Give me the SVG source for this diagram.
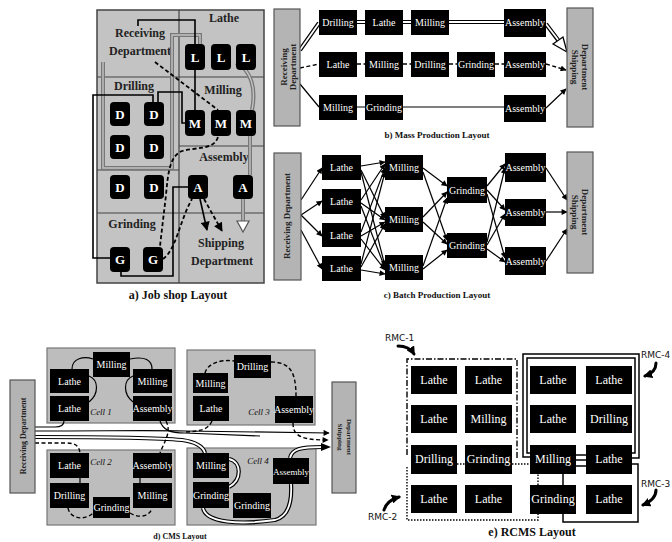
<svg xmlns="http://www.w3.org/2000/svg" width="672" height="542" viewBox="0 0 672 542">
<defs>
<style>
.bg{fill:#fff}
.area{fill:#c3c3c3;stroke:#444;stroke-width:1.5}
.div{stroke:#444;stroke-width:1.2;fill:none}
.dept{fill:#b4b4b4;stroke:#555;stroke-width:1.2}
.cell{fill:#bdbdbd;stroke:#777;stroke-width:1.2}
.nb{fill:#000}
.jn{fill:#000}
.jt{fill:#fff;font-family:"Liberation Serif",serif;font-weight:bold;font-size:13px;text-anchor:middle}
.t{fill:#fff;font-family:"Liberation Serif",serif;font-size:10px;text-anchor:middle}
.t12{fill:#fff;font-family:"Liberation Serif",serif;font-size:12px;text-anchor:middle}
.lb{fill:#222;font-family:"Liberation Serif",serif;font-weight:bold;font-size:12px;text-anchor:middle}
.dl{fill:#222;font-family:"Liberation Serif",serif;font-weight:bold;font-size:9px;text-anchor:middle}
.cap{fill:#111;font-family:"Liberation Serif",serif;font-weight:bold;font-size:10px;text-anchor:middle}
.cap2{fill:#111;font-family:"Liberation Serif",serif;font-weight:bold;font-size:12px;text-anchor:middle}
.cl{fill:#111;font-family:"Liberation Serif",serif;font-style:italic;font-size:9px;text-anchor:middle}
.rmc{fill:#111;font-family:"DejaVu Sans",sans-serif;font-size:9px}
.ln{stroke:#000;stroke-width:1.2;fill:none}
.lnb{stroke:#000;stroke-width:1.6;fill:none}
.ds{stroke:#000;stroke-width:1.4;fill:none;stroke-dasharray:4 2.5}
.dso{stroke:#000;stroke-width:1.8;fill:none;stroke-dasharray:4 2.5}
.dbo{stroke:#000;stroke-width:4.2;fill:none}
.dbi{stroke:#fff;stroke-width:1.8;fill:none}
.gro{stroke:#777;stroke-width:4;fill:none}
.gri{stroke:#c3c3c3;stroke-width:1.4;fill:none}
.dd{stroke:#000;stroke-width:1.4;fill:none;stroke-dasharray:6 2 1.5 2}
.dt{stroke:#000;stroke-width:1.4;fill:none;stroke-dasharray:1.5 1.5}
.fr{stroke:#000;stroke-width:1.5;fill:none}
.cur{stroke:#000;stroke-width:3;fill:none;stroke-linecap:round}
</style>
<marker id="ah" viewBox="0 0 10 10" refX="9" refY="5" markerWidth="7" markerHeight="6" markerUnits="userSpaceOnUse" orient="auto"><path d="M0,0 L10,5 L0,10 z" fill="#000"/></marker>
<marker id="ahb" viewBox="0 0 10 10" refX="9" refY="5" markerWidth="10" markerHeight="9" markerUnits="userSpaceOnUse" orient="auto"><path d="M0,0 L10,5 L0,10 z" fill="#000"/></marker>
<marker id="ahc" viewBox="0 0 10 10" refX="8" refY="5" markerWidth="9" markerHeight="9" markerUnits="userSpaceOnUse" orient="auto"><path d="M0,0 L10,5 L0,10 z" fill="#000"/></marker>
</defs>
<rect class="bg" x="0" y="0" width="672" height="542"/>

<!-- ============ a) Job shop ============ -->
<g id="jobshop">
<rect class="area" x="97" y="10" width="167" height="273"/>
<path class="div" d="M179 10 V283 M97 77 H264 M179 146 H264 M97 213 H264 M97 170 H179"/>
<text class="lb" x="224" y="22">Lathe</text>
<text class="lb" x="140" y="37">Receiving</text>
<text class="lb" x="140" y="55">Department</text>
<text class="lb" x="134" y="90">Drilling</text>
<text class="lb" x="223" y="94">Milling</text>
<text class="lb" x="224" y="161">Assembly</text>
<text class="lb" x="132" y="228">Grinding</text>
<text class="lb" x="221" y="247">Shipping</text>
<text class="lb" x="222" y="265">Department</text>
</g>
<g id="jobshop-connectors">
<path class="gro" d="M103 62 V168 H172 V35 H200 V44"/>
<path class="gri" d="M103 62 V168 H172 V35 H200 V44"/>
<path class="gro" d="M236 63 C252 70 256 90 252 110 M250 136 V175 M243 199 V222"/>
<path class="gri" d="M236 63 C252 70 256 90 252 110 M250 136 V175 M243 199 V222"/>
<polygon points="237,221 249,221 243,232" fill="#fff" stroke="#555" stroke-width="1.2"/>
<path class="lnb" d="M138 26 V20 H195 V110"/>
<path class="lnb" d="M110 258 H93 V95 H153 V102"/>
<path class="lnb" d="M158 102 V92 H182 V123 H185"/>
<path class="lnb" d="M121 272 V276 H173 V187 H188"/>
<path class="lnb" d="M200 199 L207 230" marker-end="url(#ahb)"/>
<path class="dso" d="M155 62 L218 110"/>
<path class="dso" d="M218 137 C214 150 196 147 182 151 C170 156 168 172 166 195 L160 246"/>
<path class="dso" d="M163 259 C176 250 180 220 192 199"/>
<path class="dso" d="M204 199 L222 231" marker-end="url(#ahb)"/>
</g>
<g id="jobshop-nodes">
<g id="jL1"><rect class="jn" x="185" y="44" width="20" height="26" rx="4"/><text class="jt" x="195" y="62">L</text></g>
<g id="jL2"><rect class="jn" x="211" y="44" width="20" height="26" rx="4"/><text class="jt" x="221" y="62">L</text></g>
<g id="jL3"><rect class="jn" x="236" y="44" width="20" height="26" rx="4"/><text class="jt" x="246" y="62">L</text></g>
<g id="jM1"><rect class="jn" x="185" y="110" width="20" height="26" rx="4"/><text class="jt" x="195" y="128">M</text></g>
<g id="jM2"><rect class="jn" x="211" y="110" width="20" height="26" rx="4"/><text class="jt" x="221" y="128">M</text></g>
<g id="jM3"><rect class="jn" x="236" y="110" width="20" height="26" rx="4"/><text class="jt" x="246" y="128">M</text></g>
<g id="jD1"><rect class="jn" x="110" y="102" width="20" height="24" rx="4"/><text class="jt" x="120" y="119">D</text></g>
<g id="jD2"><rect class="jn" x="144" y="102" width="20" height="24" rx="4"/><text class="jt" x="154" y="119">D</text></g>
<g id="jD3"><rect class="jn" x="110" y="135" width="20" height="24" rx="4"/><text class="jt" x="120" y="152">D</text></g>
<g id="jD4"><rect class="jn" x="144" y="135" width="20" height="24" rx="4"/><text class="jt" x="154" y="152">D</text></g>
<g id="jD5"><rect class="jn" x="110" y="175" width="20" height="24" rx="4"/><text class="jt" x="120" y="192">D</text></g>
<g id="jD6"><rect class="jn" x="144" y="175" width="20" height="24" rx="4"/><text class="jt" x="154" y="192">D</text></g>
<g id="jA1"><rect class="jn" x="188" y="175" width="20" height="24" rx="4"/><text class="jt" x="198" y="192">A</text></g>
<g id="jA2"><rect class="jn" x="233" y="175" width="20" height="24" rx="4"/><text class="jt" x="243" y="192">A</text></g>
<g id="jG1"><rect class="jn" x="110" y="247" width="20" height="25" rx="4"/><text class="jt" x="120" y="264">G</text></g>
<g id="jG2"><rect class="jn" x="143" y="247" width="20" height="25" rx="4"/><text class="jt" x="153" y="264">G</text></g>
</g>
<text class="cap2" x="178" y="299">a) Job shop Layout</text>

<!-- ============ b) Mass production ============ -->
<g id="mass-connectors">
<path class="dbo" d="M300 50 L319 23 M357 22 H365 M403 22 H411 M449 22 H504 M546 24 L558 40"/>
<path class="dbi" d="M300 50 L319 23 M357 22 H365 M403 22 H411 M449 22 H504 M546 24 L559 41"/>
<polygon points="553,44 563,37 567,52" fill="#fff" stroke="#000" stroke-width="1.3"/>
<path class="ds" d="M300 68 L319 64 M357 64 H365 M403 64 H411 M449 64 H457 M495 64 H504"/>
<path class="ds" d="M546 64 L566 70" marker-end="url(#ah)"/>
<path class="ln" d="M300 84 L319 107 M357 107 H365 M403 107 H504"/>
<path class="ln" d="M546 108 L566 89" marker-end="url(#ah)"/>
</g>
<g id="mass-nodes">
<g id="mRecv"><rect class="dept" x="274" y="9" width="26" height="117"/>
<text class="dl" transform="translate(287,67) rotate(-90)">Receiving</text>
<text class="dl" transform="translate(296,67) rotate(-90)">Department</text></g>
<g id="mShip"><rect class="dept" x="567" y="8" width="26" height="119"/>
<text class="dl" transform="translate(572,67) rotate(90)">Shipping</text>
<text class="dl" transform="translate(582,67) rotate(90)">Department</text></g>
<g><rect class="nb" x="319" y="10" width="38" height="25"/><text class="t" x="338" y="26">Drilling</text></g>
<g><rect class="nb" x="365" y="10" width="38" height="25"/><text class="t" x="384" y="26">Lathe</text></g>
<g><rect class="nb" x="411" y="10" width="38" height="25"/><text class="t" x="430" y="26">Milling</text></g>
<g><rect class="nb" x="504" y="9" width="42" height="28"/><text class="t" x="525" y="26">Assembly</text></g>
<g><rect class="nb" x="319" y="52" width="38" height="25"/><text class="t" x="338" y="68">Lathe</text></g>
<g><rect class="nb" x="365" y="52" width="38" height="25"/><text class="t" x="384" y="68">Milling</text></g>
<g><rect class="nb" x="411" y="52" width="38" height="25"/><text class="t" x="430" y="68">Drilling</text></g>
<g><rect class="nb" x="457" y="52" width="38" height="25"/><text class="t" x="476" y="68">Grinding</text></g>
<g><rect class="nb" x="504" y="52" width="42" height="25"/><text class="t" x="525" y="68">Assembly</text></g>
<g><rect class="nb" x="319" y="95" width="38" height="25"/><text class="t" x="338" y="111">Milling</text></g>
<g><rect class="nb" x="365" y="95" width="38" height="25"/><text class="t" x="384" y="111">Grinding</text></g>
<g><rect class="nb" x="504" y="95" width="42" height="27"/><text class="t" x="525" y="112">Assembly</text></g>
</g>
<text class="cap" x="437" y="138" style="font-size:9px">b) Mass Production Layout</text>

<!-- ============ c) Batch production ============ -->
<g id="batch-connectors">
<path class="ln" marker-end="url(#ah)" d="M301 200 L322 168"/>
<path class="ln" marker-end="url(#ah)" d="M301 215 L322 201"/>
<path class="ln" marker-end="url(#ah)" d="M301 215 L322 236"/>
<path class="ln" marker-end="url(#ah)" d="M301 230 L322 269"/>
<path class="ln" marker-end="url(#ah)" d="M361 166 L385 162"/>
<path class="ln" marker-end="url(#ah)" d="M361 170 L385 218"/>
<path class="ln" marker-end="url(#ah)" d="M361 172 L385 266"/>
<path class="ln" marker-end="url(#ah)" d="M361 200 L385 164"/>
<path class="ln" marker-end="url(#ah)" d="M361 203 L385 220"/>
<path class="ln" marker-end="url(#ah)" d="M361 206 L385 268"/>
<path class="ln" marker-end="url(#ah)" d="M361 232 L385 168"/>
<path class="ln" marker-end="url(#ah)" d="M361 236 L385 222"/>
<path class="ln" marker-end="url(#ah)" d="M361 239 L385 270"/>
<path class="ln" marker-end="url(#ah)" d="M361 264 L385 172"/>
<path class="ln" marker-end="url(#ah)" d="M361 267 L385 224"/>
<path class="ln" marker-end="url(#ah)" d="M361 270 L385 274"/>
<path class="ln" marker-end="url(#ah)" d="M423 168 L447 186"/>
<path class="ln" marker-end="url(#ah)" d="M423 172 L447 240"/>
<path class="ln" marker-end="url(#ah)" d="M423 217 L447 192"/>
<path class="ln" marker-end="url(#ah)" d="M423 222 L447 244"/>
<path class="ln" marker-end="url(#ah)" d="M423 266 L447 198"/>
<path class="ln" marker-end="url(#ah)" d="M423 269 L447 250"/>
<path class="ln" marker-end="url(#ah)" d="M487 186 L505 164"/>
<path class="ln" marker-end="url(#ah)" d="M487 190 L505 210"/>
<path class="ln" marker-end="url(#ah)" d="M487 194 L505 258"/>
<path class="ln" marker-end="url(#ah)" d="M487 242 L505 168"/>
<path class="ln" marker-end="url(#ah)" d="M487 245 L505 214"/>
<path class="ln" marker-end="url(#ah)" d="M487 249 L505 262"/>
<path class="ln" marker-end="url(#ah)" d="M546 168 L567 200"/>
<path class="ln" marker-end="url(#ah)" d="M546 212 L567 212"/>
<path class="ln" marker-end="url(#ah)" d="M546 261 L567 229"/>
</g>
<g id="batch-nodes">
<g id="bRecv"><rect class="dept" x="274" y="153" width="27" height="127"/>
<text class="dl" transform="translate(290,216) rotate(-90)">Receiving Department</text></g>
<g id="bShip"><rect class="dept" x="567" y="152" width="26" height="121"/>
<text class="dl" transform="translate(572,212) rotate(90)">Shipping</text>
<text class="dl" transform="translate(582,212) rotate(90)">Department</text></g>
<g><rect class="nb" x="322" y="155" width="39" height="25"/><text class="t" x="341.5" y="171">Lathe</text></g>
<g><rect class="nb" x="322" y="189" width="39" height="25"/><text class="t" x="341.5" y="205">Lathe</text></g>
<g><rect class="nb" x="322" y="223" width="39" height="24"/><text class="t" x="341.5" y="239">Lathe</text></g>
<g><rect class="nb" x="322" y="256" width="39" height="25"/><text class="t" x="341.5" y="272">Lathe</text></g>
<g><rect class="nb" x="385" y="155" width="38" height="25"/><text class="t" x="404" y="171">Milling</text></g>
<g><rect class="nb" x="385" y="207" width="38" height="25"/><text class="t" x="404" y="223">Milling</text></g>
<g><rect class="nb" x="385" y="255" width="38" height="25"/><text class="t" x="404" y="271">Milling</text></g>
<g><rect class="nb" x="447" y="177" width="40" height="26"/><text class="t" x="467" y="194">Grinding</text></g>
<g><rect class="nb" x="447" y="233" width="40" height="25"/><text class="t" x="467" y="249">Grinding</text></g>
<g><rect class="nb" x="505" y="153" width="41" height="29"/><text class="t" x="525.5" y="171">Assembly</text></g>
<g><rect class="nb" x="505" y="199" width="41" height="27"/><text class="t" x="525.5" y="216">Assembly</text></g>
<g><rect class="nb" x="505" y="247" width="41" height="28"/><text class="t" x="525.5" y="265">Assembly</text></g>
</g>
<text class="cap" x="437" y="298" style="font-size:9px">c) Batch Production Layout</text>

<!-- ============ d) CMS ============ -->
<g id="cms-cells">
<rect class="cell" x="47" y="348" width="128" height="75"/>
<rect class="cell" x="47" y="450" width="128" height="75"/>
<rect class="cell" x="187" y="350" width="128" height="75"/>
<rect class="cell" x="187" y="448" width="129" height="77"/>
<text class="cl" x="101" y="415">Cell 1</text>
<text class="cl" x="101" y="465">Cell 2</text>
<text class="cl" x="259" y="415">Cell 3</text>
<text class="cl" x="258" y="464">Cell 4</text>
</g>
<g id="cms-connectors">
<path class="ln" d="M72 369 C72 358 84 356 93 359 M130 359 C145 356 152 360 152 369 M89 376 C99 380 99 394 89 402 M133 376 C123 380 123 394 133 402"/>
<path class="ln" d="M35 427 H55 Q64 427 64 421"/>
<path class="ln" d="M35 431 C110 431 150 430 185 431 L329 433" marker-end="url(#ah)"/>
<path class="ln" d="M160 421 C163 430 170 433 185 433 L260 436"/>
<path class="dbo" d="M35 437 C100 437 150 437 182 440 C196 442 203 446 205 453"/>
<path class="dbi" d="M35 437 C100 437 150 437 182 440 C196 442 203 446 205 453"/>
<path class="ds" d="M35 443 H66 C76 443 79 446 80 453"/>
<path class="ds" d="M166 421 C172 432 164 442 160 453"/>
<path class="ln" d="M80 478 V483 M140 478 V483"/>
<path class="ds" d="M68 508 C70 519 85 521 93 513 M130 513 C140 519 150 516 152 508"/>
<path class="ds" d="M205 373 C207 364 220 359 234 361 M271 362 C290 362 296 372 296 396"/>
<path class="ds" d="M212 421 C208 430 200 431 186 432"/>
<path class="ds" d="M293 423 C293 436 301 440 328 440" marker-end="url(#ah)"/>
<path class="dbo" d="M229 459 C242 462 242 480 229 487 M203 508 C206 523 240 525 275 520 C290 516 292 500 291 484 M290 458 C292 449 300 447 322 447"/>
<path class="dbi" d="M229 459 C242 462 242 480 229 487 M203 508 C206 523 240 525 275 520 C290 516 292 500 291 484 M290 458 C292 449 300 447 323 447"/>
<polygon points="321,443 331,447 321,451" fill="#000"/>
</g>
<g id="cms-nodes">
<g id="cRecv"><rect class="dept" x="10" y="380" width="25" height="113"/>
<text class="dl" style="font-size:8px" transform="translate(26,436) rotate(-90)">Receiving Department</text></g>
<g id="cShip"><rect class="dept" x="332" y="382" width="24" height="111"/>
<text class="dl" style="font-size:7px" transform="translate(338,437) rotate(90)">Shipping</text>
<text class="dl" style="font-size:7px" transform="translate(347,437) rotate(90)">Department</text></g>
<g><rect class="nb" x="93" y="352" width="37" height="25"/><text class="t" x="111.5" y="368">Milling</text></g>
<g><rect class="nb" x="50" y="369" width="39" height="24"/><text class="t" x="69.5" y="385">Lathe</text></g>
<g><rect class="nb" x="50" y="396" width="39" height="25"/><text class="t" x="69.5" y="412">Lathe</text></g>
<g><rect class="nb" x="133" y="369" width="39" height="24"/><text class="t" x="152.5" y="385">Milling</text></g>
<g><rect class="nb" x="133" y="396" width="39" height="25"/><text class="t" x="152.5" y="412">Assembly</text></g>
<g><rect class="nb" x="50" y="453" width="39" height="25"/><text class="t" x="69.5" y="469">Lathe</text></g>
<g><rect class="nb" x="50" y="483" width="39" height="25"/><text class="t" x="69.5" y="499">Drilling</text></g>
<g><rect class="nb" x="93" y="497" width="37" height="21"/><text class="t" x="111.5" y="511">Grinding</text></g>
<g><rect class="nb" x="133" y="453" width="39" height="25"/><text class="t" x="152.5" y="469">Assembly</text></g>
<g><rect class="nb" x="133" y="483" width="39" height="25"/><text class="t" x="152.5" y="499">Milling</text></g>
<g><rect class="nb" x="193" y="373" width="35" height="20"/><text class="t" x="210.5" y="387">Milling</text></g>
<g><rect class="nb" x="234" y="355" width="37" height="23"/><text class="t" x="252.5" y="370">Drilling</text></g>
<g><rect class="nb" x="193" y="396" width="36" height="25"/><text class="t" x="211" y="412">Lathe</text></g>
<g><rect class="nb" x="275" y="396" width="38" height="27"/><text class="t" x="294" y="413">Assembly</text></g>
<g><rect class="nb" x="193" y="453" width="36" height="25"/><text class="t" x="211" y="469">Milling</text></g>
<g><rect class="nb" x="193" y="482" width="36" height="26"/><text class="t" x="211" y="499">Grinding</text></g>
<g><rect class="nb" x="233" y="493" width="38" height="25"/><text class="t" x="252" y="509">Grinding</text></g>
<g><rect class="nb" x="273" y="458" width="36" height="26"/><text class="t" x="291" y="475" style="font-size:9px">Assembly</text></g>
</g>
<text class="cap" x="180" y="539" style="font-size:8px">d) CMS Layout</text>

<!-- ============ e) RCMS ============ -->
<g id="rcms-connectors">
<path class="dd" d="M407 455 V359 H517 V460"/>
<path class="dt" d="M407 467 V520 H538 V474 M457 464 H465 M512 464 H530"/>
<path class="fr" d="M530 457 H523 V354 H639 V458 H632"/>
<path class="fr" d="M530 453 H527 V358 H635 V453 H632"/>
<path class="fr" d="M576 455 H586 M576 460 H586 M576 466 H586"/>
<path class="fr" d="M632 464 H638 V522 H563 V474"/>
<path class="cur" d="M398 346 C406 346 411 349 414 354" marker-end="url(#ahc)"/>
<path class="cur" d="M384 510 C386 503 392 499 399 497" marker-end="url(#ahc)"/>
<path class="cur" d="M656 363 C656 370 651 374 645 376" marker-end="url(#ahc)"/>
<path class="cur" d="M656 490 C656 498 650 502 643 505" marker-end="url(#ahc)"/>
<text class="rmc" x="385" y="341">RMC-1</text>
<text class="rmc" x="368" y="520">RMC-2</text>
<text class="rmc" x="641" y="358">RMC-4</text>
<text class="rmc" x="641" y="487">RMC-3</text>
</g>
<g id="rcms-nodes">
<g><rect class="nb" x="411" y="366" width="46" height="28"/><text class="t12" x="434" y="384">Lathe</text></g>
<g><rect class="nb" x="465" y="366" width="47" height="28"/><text class="t12" x="488.5" y="384">Lathe</text></g>
<g><rect class="nb" x="530" y="366" width="46" height="28"/><text class="t12" x="553" y="384">Lathe</text></g>
<g><rect class="nb" x="586" y="366" width="46" height="28"/><text class="t12" x="609" y="384">Lathe</text></g>
<g><rect class="nb" x="411" y="405" width="46" height="28"/><text class="t12" x="434" y="423">Lathe</text></g>
<g><rect class="nb" x="465" y="405" width="47" height="28"/><text class="t12" x="488.5" y="423">Milling</text></g>
<g><rect class="nb" x="530" y="405" width="46" height="28"/><text class="t12" x="553" y="423">Lathe</text></g>
<g><rect class="nb" x="586" y="405" width="46" height="28"/><text class="t12" x="609" y="423">Drilling</text></g>
<g><rect class="nb" x="411" y="445" width="46" height="29"/><text class="t12" x="434" y="463">Drilling</text></g>
<g><rect class="nb" x="465" y="445" width="47" height="29"/><text class="t12" x="488.5" y="463">Grinding</text></g>
<g><rect class="nb" x="530" y="445" width="46" height="29"/><text class="t12" x="553" y="463">Milling</text></g>
<g><rect class="nb" x="586" y="445" width="46" height="29"/><text class="t12" x="609" y="463">Lathe</text></g>
<g><rect class="nb" x="411" y="485" width="46" height="28"/><text class="t12" x="434" y="503">Lathe</text></g>
<g><rect class="nb" x="465" y="485" width="47" height="28"/><text class="t12" x="488.5" y="503">Lathe</text></g>
<g><rect class="nb" x="530" y="485" width="46" height="29"/><text class="t12" x="553" y="503">Grinding</text></g>
<g><rect class="nb" x="586" y="485" width="46" height="29"/><text class="t12" x="609" y="503">Lathe</text></g>
</g>
<text class="cap2" x="532" y="536">e) RCMS Layout</text>
</svg>
